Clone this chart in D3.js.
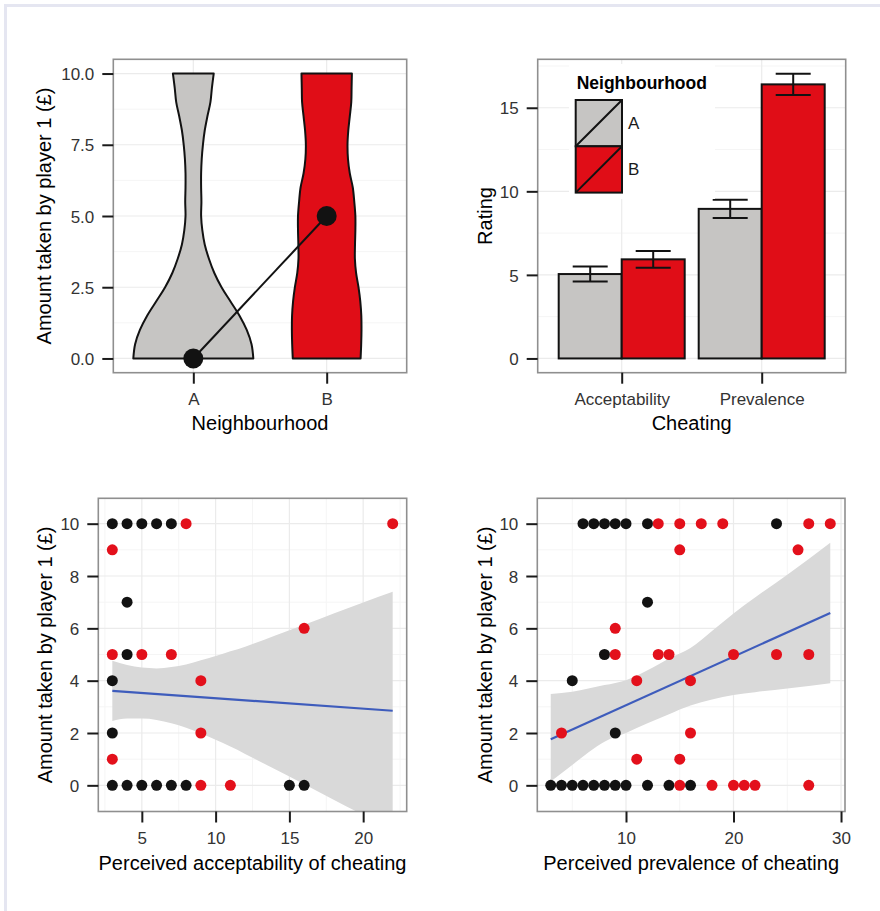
<!DOCTYPE html>
<html><head><meta charset="utf-8">
<script src="https://cdn.jsdelivr.net/npm/d3@7"></script>
<style>html,body{margin:0;padding:0;background:#fff;}svg{display:block;}</style>
</head><body>
<svg id="chart" width="880" height="911"></svg>
<script>
// ---------------- DATA ----------------
const neighbourhoods = ["A", "B"];
// violin profile (relative density)
const violinY      = [0, 0.5, 1, 1.5, 2, 2.5, 3, 3.5, 4, 4.5, 5, 5.5, 6, 6.5, 7, 7.5, 8, 8.5, 9, 9.5, 10];
const violinDensA  = [1.0, .97, .89, .77, .62, .47, .35, .26, .19, .15, .13, .135, .13, .13, .14, .16, .19, .235, .285, .31, .34];
const violinDensB  = [.565, .575, .58, .577, .56, .53, .49, .47, .472, .478, .478, .46, .435, .385, .355, .347, .36, .385, .41, .415, .42];
const medianAmount = [0, 5];
const yTicksAmountTop = [0, 2.5, 5, 7.5, 10];

const cheatingTypes = ["Acceptability", "Prevalence"];
const ratingMeanA = [5.05, 8.95];
const ratingMeanB = [5.93, 16.40];
const ratingSeA   = [0.45, 0.55];
const ratingSeB   = [0.50, 0.63];
const yTicksRating = [0, 5, 10, 15];

// bottom-left: perceived acceptability vs amount taken
const accX     = [3,4,5,6,7, 4, 4, 3, 3, 3,4,5,6,7,8, 15,16, 8,22, 3, 16, 3,5,7, 9, 9, 3, 9,11];
const accY     = [10,10,10,10,10, 7, 5, 4, 2, 0,0,0,0,0,0, 0,0, 10,10, 9, 6, 5,5,5, 4, 2, 1, 0,0];
const accGroup = ["A","A","A","A","A","A","A","A","A","A","A","A","A","A","A","A","A",
                  "B","B","B","B","B","B","B","B","B","B","B","B"];
const accFitX = [3, 22];
const accFitY = [3.61, 2.85];
const accBandX  = [3, 4, 5, 6, 7, 8, 9, 10, 11, 12, 14, 16, 18, 20, 22];
const accBandLo = [2.46, 2.55, 2.55, 2.50, 2.37, 2.20, 1.98, 1.74, 1.48, 1.20, 0.62, 0.04, -0.55, -1.13, -1.70];
const accBandHi = [4.76, 4.60, 4.50, 4.47, 4.52, 4.62, 4.78, 4.94, 5.12, 5.30, 5.72, 6.14, 6.57, 6.99, 7.40];
const xTicksAcc = [5, 10, 15, 20];

// bottom-right: perceived prevalence vs amount taken
const prevX = [6,7,8,9,10,12,24, 12, 8, 5, 9, 3,4,5,6,7,8,9,10,12,14,16,
               13,15,17,19,27,29, 15,26, 9, 9,13,14,20,24,27, 11,16, 4,16, 11,15, 15,18,20,21,22,27];
const prevY = [10,10,10,10,10,10,10, 7, 5, 4, 2, 0,0,0,0,0,0,0,0,0,0,0,
               10,10,10,10,10,10, 9,9, 6, 5,5,5,5,5,5, 4,4, 2,2, 1,1, 0,0,0,0,0,0];
const prevGroup = ["A","A","A","A","A","A","A","A","A","A","A","A","A","A","A","A","A","A","A","A","A","A",
                   "B","B","B","B","B","B","B","B","B","B","B","B","B","B","B","B","B","B","B","B","B","B","B","B","B","B","B"];
const prevFitX = [3, 29];
const prevFitY = [1.76, 6.59];
const prevBandX  = [3, 5, 8, 10, 12, 14, 16, 18, 20, 22, 25, 29];
const prevBandLo = [0.15, 0.78, 1.67, 2.00, 2.37, 2.72, 3.05, 3.28, 3.45, 3.56, 3.70, 3.90];
const prevBandHi = [3.49, 3.58, 3.83, 4.02, 4.40, 4.85, 5.25, 5.90, 6.57, 7.18, 8.05, 9.27];
const xTicksPrev = [10, 20, 30];
const yTicksAmount = [0, 2, 4, 6, 8, 10];

// ---------------- STYLE ----------------
const FONT = "'Liberation Sans', Arial, Helvetica, sans-serif";
const GREY = "#c6c5c3", RED = "#e00d17", BLACK = "#121212";
const fillOf = g => g === "A" ? GREY : RED;
const dotOf = g => g === "A" ? BLACK : "#e3101b";

const svg = d3.select("#chart").style("font-family", FONT);
svg.append("rect").attr("width", 880).attr("height", 911).attr("fill", "#fff");
// outer frame (top & left edges)
svg.append("rect").attr("x", 4).attr("y", 4).attr("width", 876).attr("height", 3).attr("fill", "#e5e6f1");
svg.append("rect").attr("x", 4).attr("y", 4).attr("width", 3).attr("height", 907).attr("fill", "#e5e6f1");

const P1 = {x0: 113.3, x1: 406.7, y0: 59.3, y1: 372.7};
const P2 = {x0: 537.7, x1: 845.7, y0: 59.3, y1: 372.7};
const P3 = {x0: 98.3,  x1: 406.7, y0: 498.3, y1: 811.5};
const P4 = {x0: 537.3, x1: 845.0, y0: 498.3, y1: 811.5};

function gridH(g, P, y, vals, minor) {
  g.selectAll(null).data(vals).enter().append("line")
    .attr("x1", P.x0).attr("x2", P.x1).attr("y1", d => y(d)).attr("y2", d => y(d))
    .attr("stroke", minor ? "#f5f5f5" : "#ebebeb").attr("stroke-width", minor ? 1 : 1.2);
}
function gridV(g, P, x, vals, minor) {
  g.selectAll(null).data(vals).enter().append("line")
    .attr("y1", P.y0).attr("y2", P.y1).attr("x1", d => x(d)).attr("x2", d => x(d))
    .attr("stroke", minor ? "#f5f5f5" : "#ebebeb").attr("stroke-width", minor ? 1 : 1.2);
}
function border(P) {
  svg.append("rect").attr("x", P.x0).attr("y", P.y0).attr("width", P.x1 - P.x0).attr("height", P.y1 - P.y0)
    .attr("fill", "none").attr("stroke", "#8f8f8f").attr("stroke-width", 1.6);
}
function styleAxis(g) {
  g.select(".domain").remove();
  g.selectAll(".tick line").attr("stroke", "#1a1a1a").attr("stroke-width", 2);
  g.selectAll(".tick text").attr("fill", "#333333").style("font-size", "17px").style("font-family", FONT);
}
function yAxis(P, y, ticks, fmt) {
  const g = svg.append("g").attr("transform", `translate(${P.x0},0)`)
    .call(d3.axisLeft(y).tickValues(ticks).tickSize(11).tickPadding(8).tickFormat(fmt));
  styleAxis(g);
  g.selectAll(".tick text").attr("dy", "0.36em");
}
function xAxis(P, x, ticks, fmt) {
  const ax = d3.axisBottom(x).tickSize(11).tickPadding(9);
  if (ticks) ax.tickValues(ticks);
  if (fmt) ax.tickFormat(fmt);
  const g = svg.append("g").attr("transform", `translate(0,${P.y1})`).call(ax);
  styleAxis(g);
}
function xTitle(P, txt, yb) {
  svg.append("text").attr("x", (P.x0 + P.x1) / 2).attr("y", yb).attr("text-anchor", "middle")
    .style("font-size", "20px").attr("fill", "#000").text(txt);
}
function yTitle(P, txt, xb) {
  svg.append("text").attr("transform", `translate(${xb},${(P.y0 + P.y1) / 2}) rotate(-90)`)
    .attr("text-anchor", "middle").style("font-size", "20px").attr("fill", "#000").text(txt);
}

// ================= PANEL 1: violin =================
{
  const P = P1;
  const y = d3.scaleLinear().domain([-0.5, 10.5]).range([P.y1, P.y0]);
  const x = d3.scalePoint().domain(neighbourhoods).range([P.x0, P.x1]).padding(0.6);
  const w = d3.scaleLinear().domain([0, 1]).range([0, 0.45 * x.step()]);
  const g = svg.append("g");
  gridH(g, P, y, [1.25, 3.75, 6.25, 8.75], true);
  gridH(g, P, y, yTicksAmountTop, false);
  gridV(g, P, x, neighbourhoods, false);
  const dens = {A: violinDensA, B: violinDensB};
  neighbourhoods.forEach(n => {
    const pts = violinY.map((v, i) => ({v, d: dens[n][i]}));
    const area = d3.area().y(d => y(d.v)).x0(d => x(n) - w(d.d)).x1(d => x(n) + w(d.d))
      .curve(d3.curveCatmullRom);
    g.append("path").attr("d", area(pts)).attr("fill", fillOf(n))
      .attr("stroke", BLACK).attr("stroke-width", 2).attr("stroke-linejoin", "round");
  });
  const line = d3.line().x((d, i) => x(neighbourhoods[i])).y(d => y(d));
  g.append("path").attr("d", line(medianAmount)).attr("stroke", BLACK).attr("stroke-width", 2).attr("fill", "none");
  g.selectAll(null).data(medianAmount).enter().append("circle")
    .attr("cx", (d, i) => x(neighbourhoods[i])).attr("cy", d => y(d)).attr("r", 10).attr("fill", BLACK);
  border(P);
  yAxis(P, y, yTicksAmountTop, d3.format(".1f"));
  xAxis(P, x);
  xTitle(P, "Neighbourhood", 430);
  yTitle(P, "Amount taken by player 1 (£)", 51);
}

// ================= PANEL 2: bars =================
{
  const P = P2;
  const y = d3.scaleLinear().domain([-0.853, 17.9]).range([P.y1, P.y0]);
  const x = d3.scalePoint().domain(cheatingTypes).range([P.x0, P.x1]).padding(0.6);
  const inner = d3.scaleBand().domain(neighbourhoods).range([-0.45 * x.step(), 0.45 * x.step()]);
  const g = svg.append("g");
  gridH(g, P, y, [2.5, 7.5, 12.5, 17.5], true);
  gridH(g, P, y, yTicksRating, false);
  gridV(g, P, x, cheatingTypes, false);
  const rows = [];
  cheatingTypes.forEach((c, i) => {
    rows.push({c, n: "A", m: ratingMeanA[i], se: ratingSeA[i]});
    rows.push({c, n: "B", m: ratingMeanB[i], se: ratingSeB[i]});
  });
  g.selectAll(null).data(rows).enter().append("rect")
    .attr("x", d => x(d.c) + inner(d.n)).attr("width", inner.bandwidth())
    .attr("y", d => y(d.m)).attr("height", d => y(0) - y(d.m))
    .attr("fill", d => fillOf(d.n)).attr("stroke", BLACK).attr("stroke-width", 2);
  const cap = 0.25 * x.step() / 2;
  rows.forEach(d => {
    const cx = x(d.c) + inner(d.n) + inner.bandwidth() / 2;
    g.append("line").attr("x1", cx).attr("x2", cx).attr("y1", y(d.m - d.se)).attr("y2", y(d.m + d.se))
      .attr("stroke", BLACK).attr("stroke-width", 2);
    [d.m - d.se, d.m + d.se].forEach(v => g.append("line").attr("x1", cx - cap).attr("x2", cx + cap)
      .attr("y1", y(v)).attr("y2", y(v)).attr("stroke", BLACK).attr("stroke-width", 2));
  });
  // legend
  const L = svg.append("g");
  L.append("rect").attr("x", 569).attr("y", 64).attr("width", 146).attr("height", 135).attr("fill", "#fff");
  L.append("text").attr("x", 576.7).attr("y", 89).style("font-size", "17.5px").style("font-weight", "bold")
    .attr("fill", "#000").text("Neighbourhood");
  neighbourhoods.forEach((n, i) => {
    const kx = 575.7, ky = 100 + i * 46.3, ks = 46.3;
    L.append("rect").attr("x", kx).attr("y", ky).attr("width", ks).attr("height", ks)
      .attr("fill", fillOf(n)).attr("stroke", BLACK).attr("stroke-width", 2);
    L.append("line").attr("x1", kx).attr("y1", ky + ks).attr("x2", kx + ks).attr("y2", ky)
      .attr("stroke", BLACK).attr("stroke-width", 2);
    L.append("text").attr("x", kx + ks + 6).attr("y", ky + ks / 2 + 6).style("font-size", "17px")
      .attr("fill", "#1a1a1a").text(n);
  });
  border(P);
  yAxis(P, y, yTicksRating, d3.format("d"));
  xAxis(P, x);
  xTitle(P, "Cheating", 430);
  yTitle(P, "Rating", 491.5);
}

// ================= PANELS 3 & 4: scatter =================
function scatter(P, xDomain, xTicks, xMinor, X, Y, G, fitX, fitY, bX, bLo, bHi, xlab, ytx, clipId) {
  const y = d3.scaleLinear().domain([-1.0, 10.97]).range([P.y1, P.y0]);
  const x = d3.scaleLinear().domain(xDomain).range([P.x0, P.x1]);
  const g = svg.append("g");
  gridH(g, P, y, [1, 3, 5, 7, 9], true);
  gridV(g, P, x, xMinor, true);
  gridH(g, P, y, yTicksAmount, false);
  gridV(g, P, x, xTicks, false);
  svg.append("clipPath").attr("id", clipId).append("rect")
    .attr("x", P.x0).attr("y", P.y0).attr("width", P.x1 - P.x0).attr("height", P.y1 - P.y0);
  const gc = g.append("g").attr("clip-path", `url(#${clipId})`);
  const band = bX.map((v, i) => ({x: v, lo: bLo[i], hi: bHi[i]}));
  gc.append("path").attr("d", d3.area().x(d => x(d.x)).y0(d => y(d.lo)).y1(d => y(d.hi))
      .curve(d3.curveMonotoneX)(band)).attr("fill", "#d9d9d9");
  gc.append("path").attr("d", d3.line().x((d, i) => x(fitX[i])).y(d => y(d))(fitY))
    .attr("stroke", "#3e5cbc").attr("stroke-width", 2.2).attr("fill", "none");
  g.selectAll(null).data(X).enter().append("circle")
    .attr("cx", d => x(d)).attr("cy", (d, i) => y(Y[i])).attr("r", 5.5)
    .attr("fill", (d, i) => dotOf(G[i]));
  border(P);
  yAxis(P, y, yTicksAmount, d3.format("d"));
  xAxis(P, x, xTicks, d3.format("d"));
  xTitle(P, xlab, 870);
  yTitle(P, "Amount taken by player 1 (£)", ytx);
}
scatter(P3, [2.05, 22.95], xTicksAcc, [2.5, 7.5, 12.5, 17.5, 22.5], accX, accY, accGroup,
        accFitX, accFitY, accBandX, accBandLo, accBandHi, "Perceived acceptability of cheating", 52, "clipAcc");
scatter(P4, [1.75, 30.37], xTicksPrev, [5, 15, 25], prevX, prevY, prevGroup,
        prevFitX, prevFitY, prevBandX, prevBandLo, prevBandHi, "Perceived prevalence of cheating", 492, "clipPrev");
</script>
</body></html>
